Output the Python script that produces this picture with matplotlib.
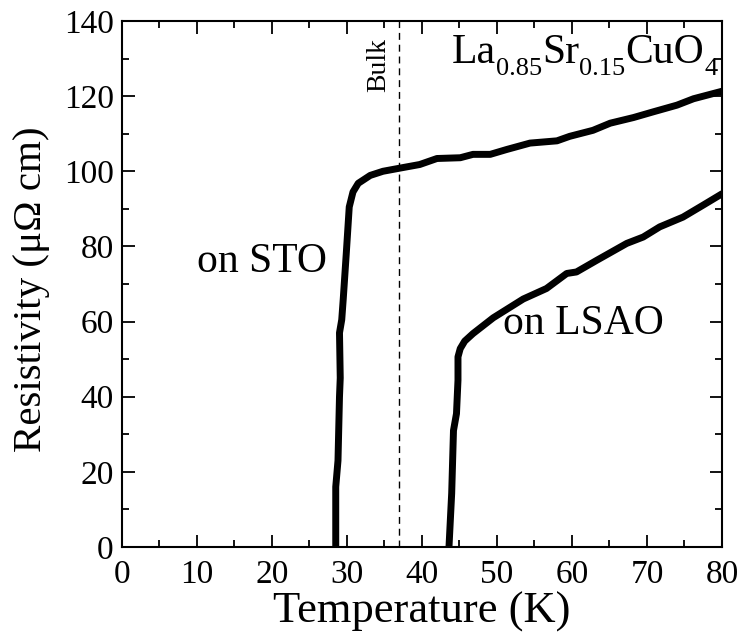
import matplotlib
matplotlib.use("Agg")
import matplotlib.pyplot as plt
from matplotlib.ticker import MultipleLocator

plt.rcParams['font.family'] = ['Liberation Serif', 'DejaVu Serif']

# Film on SrTiO3
t_sto = [28.5, 28.5, 28.8, 29.0, 29.1, 29.0, 29.3, 29.5, 29.9, 30.3, 30.8, 31.5, 33.1,
         34.8, 37.5, 39.7, 42.0, 45.1, 46.8, 49.1, 51.3, 54.4, 58.0, 59.7, 62.8,
         65.1, 68.2, 70.8, 74.0, 76.2, 80.0]
rho_sto = [0, 16, 23, 40, 45, 57, 60.5, 66, 78, 90.5, 94.5, 96.8, 98.9,
           100, 101, 101.8, 103.4, 103.6, 104.5, 104.5, 105.8, 107.5, 108.1, 109.3, 110.9,
           112.8, 114.3, 115.8, 117.6, 119.3, 121.3]

# Film on LaSrAlO4
t_lsao = [43.6, 43.96, 44.2, 44.6, 44.8, 44.8, 45.1, 45.7, 46.8, 49.5, 53.5, 56.6, 59.3,
          60.6, 63.3, 67.3, 69.5, 71.7, 74.8, 77.5, 80.0]
rho_lsao = [0, 14.3, 31, 35.5, 44.4, 50.6, 52.8, 54.8, 56.8, 61, 66, 68.8, 72.8,
            73.2, 76.3, 80.8, 82.5, 85.2, 87.8, 91.0, 94.0]

tc_bulk = 37

# chemical formula pieces: (text, is_subscript)
formula = [('La', False), ('0.85', True), ('Sr', False), ('0.15', True),
           ('CuO', False), ('4', True)]

W, H = 743, 632
fig = plt.figure(figsize=(W / 100, H / 100), dpi=100)
ax = fig.add_axes([0.1642, 0.1345, 0.8075, 0.8323])

ax.plot(t_sto, rho_sto, color='black', lw=5, solid_capstyle='round', solid_joinstyle='round')
ax.plot(t_lsao, rho_lsao, color='black', lw=5, solid_capstyle='round', solid_joinstyle='round')
ax.axvline(tc_bulk, color='black', lw=1, ls=(0, (5, 3.5)))

ax.set_xlim(0, 80)
ax.set_ylim(0, 140)
ax.xaxis.set_major_locator(MultipleLocator(10))
ax.xaxis.set_minor_locator(MultipleLocator(5))
ax.yaxis.set_major_locator(MultipleLocator(20))
ax.yaxis.set_minor_locator(MultipleLocator(10))
ax.tick_params(which='both', direction='in', top=True, right=True, width=1.3,
               labelsize=24)
ax.tick_params(which='major', length=9)
ax.tick_params(which='minor', length=5)
ax.tick_params(axis='x', which='major', pad=9)
ax.tick_params(axis='y', which='major', pad=6)
for s in ax.spines.values():
    s.set_linewidth(1.5)

ax.set_xlabel('Temperature (K)', fontsize=32, labelpad=1)
ax.set_ylabel('Resistivity (μΩ cm)', fontsize=29.5)
ax.yaxis.set_label_coords(-0.12, 0.49)

ax.text(35.9, 135.4, 'Bulk', rotation=90, ha='right', va='top', fontsize=20)
ax.text(27.3, 75.8, 'on STO', ha='right', va='center', fontsize=30)
ax.text(50.8, 59.5, 'on LSAO', ha='left', va='center', fontsize=30)

# formula drawn piece by piece so subscripts sit well below the baseline
renderer = fig.canvas.get_renderer()
x0, y0 = ax.transData.transform((44.0, 128.7))
x = x0
for piece, sub in formula:
    size = 19 if sub else 30
    y = y0 - (12 if sub else 0)
    t = fig.text(x / W, y / H, piece, fontsize=size, ha='left', va='baseline')
    bb = t.get_window_extent(renderer)
    x = bb.x1

fig.savefig('out.png', dpi=100)
